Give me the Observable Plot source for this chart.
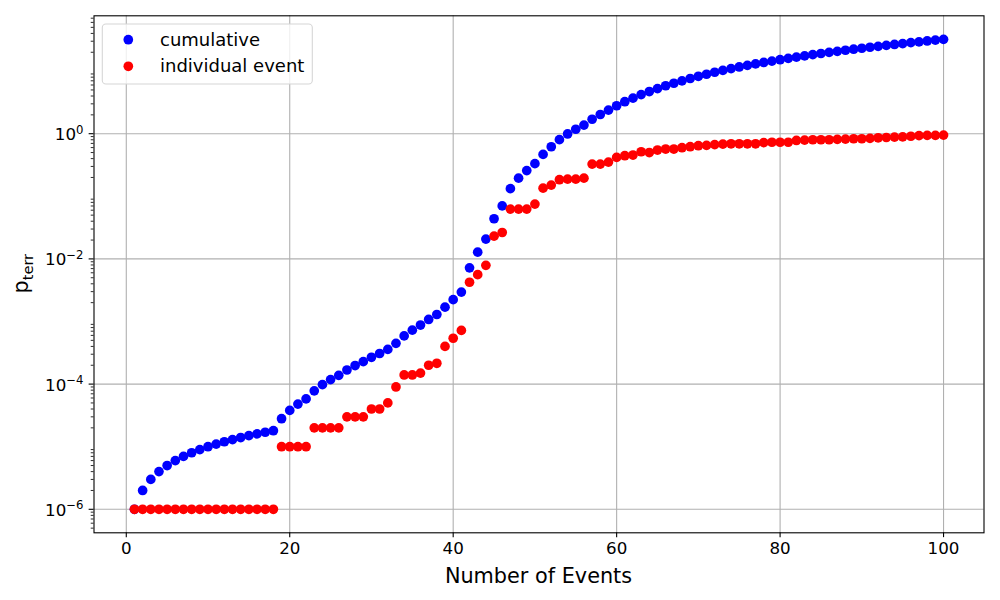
<!DOCTYPE html>
<html><head><meta charset="utf-8">
<script src="https://cdn.jsdelivr.net/npm/d3@7"></script>
<script src="https://cdn.jsdelivr.net/npm/@observablehq/plot@0.6"></script>
<style>body{margin:0;background:#fff;} #chart{width:1000px;height:600px;}</style>
</head><body><div id="chart"></div>
<script>
const events = [1,2,3,4,5,6,7,8,9,10,11,12,13,14,15,16,17,18,19,20,21,22,23,24,25,26,27,28,29,30,31,32,33,34,35,36,37,38,39,40,41,42,43,44,45,46,47,48,49,50,51,52,53,54,55,56,57,58,59,60,61,62,63,64,65,66,67,68,69,70,71,72,73,74,75,76,77,78,79,80,81,82,83,84,85,86,87,88,89,90,91,92,93,94,95,96,97,98,99,100];

const individual = [
  1e-6,1e-6,1e-6,1e-6,1e-6,1e-6,1e-6,1e-6,1e-6,1e-6,1e-6,1e-6,1e-6,1e-6,1e-6,1e-6,1e-6,1e-6,
  1e-5,1e-5,1e-5,1e-5,
  2e-5,2e-5,2e-5,2e-5,
  3e-5,3e-5,3e-5,
  4e-5,4e-5,
  5e-5,9e-5,1.4e-4,1.4e-4,1.5e-4,2.0e-4,2.15e-4,4.0e-4,5.4e-4,7.2e-4,
  4.24e-3,5.6e-3,7.9e-3,0.0231,0.0264,0.0624,0.0624,0.0624,0.075,
  0.135,0.151,0.184,0.188,0.188,0.195,0.327,0.327,0.352,0.418,
  0.445,0.456,0.515,0.50,0.548,0.569,0.569,0.597,0.62,0.643,
  0.65,0.67,0.68,0.69,0.69,0.69,0.69,0.72,0.73,0.73,
  0.73,0.78,0.79,0.80,0.80,0.80,0.81,0.82,0.83,0.83,
  0.84,0.86,0.87,0.88,0.89,0.91,0.93,0.94,0.94,0.95
];

const cumulative = [
  1e-6,2e-6,3e-6,4e-6,5e-6,6e-6,7e-6,8e-6,9e-6,1.0e-5,1.1e-5,1.2e-5,1.3e-5,1.4e-5,1.5e-5,1.6e-5,1.7e-5,1.8e-5,
  2.8e-5,3.8e-5,4.8e-5,5.8e-5,7.8e-5,9.8e-5,1.18e-4,1.38e-4,1.68e-4,1.98e-4,2.28e-4,2.68e-4,
  3.08e-4,3.58e-4,4.48e-4,5.88e-4,7.28e-4,8.78e-4,1.078e-3,1.293e-3,1.693e-3,2.233e-3,
  2.953e-3,7.19e-3,0.0128,0.0207,0.0438,0.0702,0.1326,0.195,0.2574,0.3324,
  0.4674,0.6184,0.8024,0.9904,1.178,1.373,1.700,2.027,2.379,2.797,
  3.242,3.698,4.213,4.713,5.261,5.830,6.399,6.996,7.616,8.259,
  8.909,9.579,10.26,10.95,11.64,12.33,13.02,13.74,14.47,15.20,
  15.93,16.71,17.50,18.30,19.10,19.90,20.71,21.53,22.36,23.19,
  24.03,24.89,25.76,26.64,27.53,28.44,29.37,30.31,31.25,32.20
];

const seriesNames = ["cumulative", "individual event"];
const seriesColors = ["blue", "red"];
const xTicks = [0, 20, 40, 60, 80, 100];
const yMajorExp = [-6, -4, -2, 0];
const xLabel = "Number of Events";
const yLabelMain = "p";
const yLabelSub = "terr";

const cumData = events.map((e, i) => ({event: e, p: cumulative[i]}));
const indData = events.map((e, i) => ({event: e, p: individual[i]}));

const yLo = Math.pow(10, -6.3754), yHi = Math.pow(10, 1.8834);
const yMajor = yMajorExp.map(k => Math.pow(10, k));
const yMinor = [];
for (let k = -7; k <= 1; k++) for (let m = 2; m <= 9; m++) {
  const v = m * Math.pow(10, k);
  if (v >= yLo && v <= yHi) yMinor.push(v);
}

const FONT = "'DejaVu Sans', sans-serif";
const R = 4.85;
const chart = Plot.plot({
  width: 1000, height: 600,
  marginLeft: 93.5, marginRight: 16.5, marginTop: 15.3, marginBottom: 67.7,
  style: {fontFamily: FONT, fontSize: "16.7px", background: "#fff", color: "#000", overflow: "visible"},
  x: {domain: [-3.95, 104.95]},
  y: {type: "log", domain: [yLo, yHi]},
  marks: [
    Plot.gridX(xTicks, {stroke: "#b0b0b0", strokeOpacity: 1, strokeWidth: 1.1}),
    Plot.gridY(yMajor, {stroke: "#b0b0b0", strokeOpacity: 1, strokeWidth: 1.1}),
    Plot.dot(cumData, {x: "event", y: "p", r: R, fill: seriesColors[0]}),
    Plot.dot(indData, {x: "event", y: "p", r: R, fill: seriesColors[1]}),
    Plot.axisX(xTicks, {tickSize: 4.86, tickPadding: 4.9, strokeWidth: 1.1, tickFormat: d => String(d), label: null, fontSize: 16.7}),
    Plot.axisY(yMajor, {tickSize: 4.86, strokeWidth: 1.1, tickFormat: () => "", label: null}),
    Plot.axisY(yMinor, {tickSize: 2.78, strokeWidth: 0.83, tickFormat: () => "", label: null}),
    Plot.frame({stroke: "#000", strokeWidth: 1.1})
  ]
});

document.getElementById("chart").appendChild(chart);

const svg = d3.select(chart);
const ys = chart.scale("y");

// y tick labels with superscripts
yMajorExp.forEach(k => {
  const y = ys.apply(Math.pow(10, k));
  const t = svg.append("text")
    .attr("x", 83.5).attr("y", y + 7)
    .attr("text-anchor", "end")
    .attr("font-family", FONT).attr("font-size", 16.7).attr("fill", "#000");
  t.append("tspan").text("10");
  t.append("tspan").attr("font-size", 11.7).attr("dy", -6.7).text(k < 0 ? "\u2212" + (-k) : String(k));
});

// x label
svg.append("text")
  .attr("x", 538.5).attr("y", 583)
  .attr("text-anchor", "middle")
  .attr("font-family", FONT).attr("font-size", 20.8).attr("fill", "#000")
  .text(xLabel);

// y label with subscript
const yl = svg.append("text")
  .attr("transform", "translate(28.3,273.7) rotate(-90)")
  .attr("text-anchor", "middle")
  .attr("font-family", FONT).attr("font-size", 20.8).attr("fill", "#000");
yl.append("tspan").text(yLabelMain);
yl.append("tspan").attr("font-size", 14.6).attr("dy", 4.2).text(yLabelSub);

// legend
const lg = svg.append("g");
lg.append("rect")
  .attr("x", 102.3).attr("y", 24).attr("width", 210).attr("height", 60).attr("rx", 3.6)
  .attr("fill", "#fff").attr("fill-opacity", 0.8)
  .attr("stroke", "#d6d6d6").attr("stroke-width", 1.1);
seriesNames.forEach((name, i) => {
  const by = 45.7 + i * 26.6;
  lg.append("circle").attr("cx", 128.3).attr("cy", by - 6).attr("r", R).attr("fill", seriesColors[i]);
  lg.append("text").attr("x", 160).attr("y", by)
    .attr("text-anchor", "start")
    .attr("font-family", FONT).attr("font-size", 18).attr("fill", "#000")
    .text(name);
});
</script>
</body></html>
